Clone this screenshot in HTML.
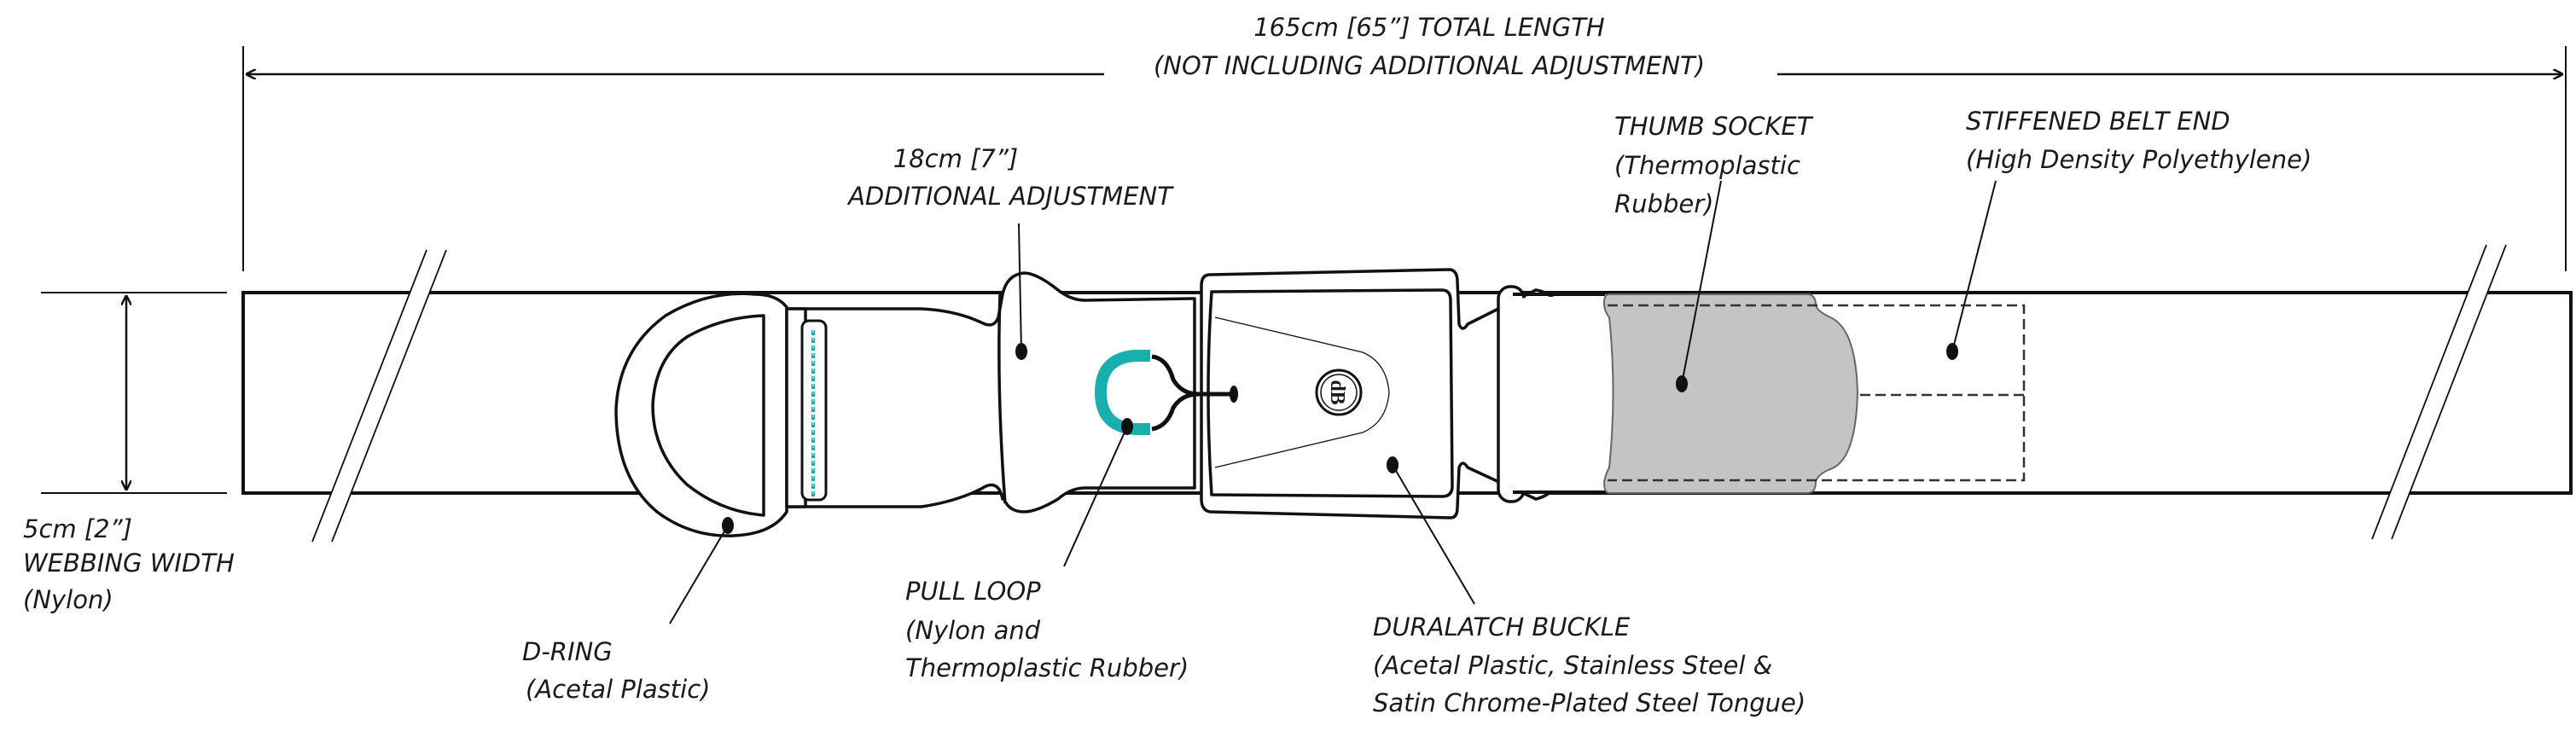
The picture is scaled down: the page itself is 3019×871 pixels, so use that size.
<!DOCTYPE html>
<html><head><meta charset="utf-8"><style>
html,body{margin:0;padding:0;background:#fff;}
svg{display:block;}
text{font-family:"DejaVu Sans","Liberation Sans",sans-serif;font-style:italic;font-size:29px;fill:#1a1a1a;}
</style></head><body>
<svg width="3019" height="871" viewBox="0 0 3019 871" xmlns="http://www.w3.org/2000/svg">
<defs>
<marker id="ar" markerWidth="12" markerHeight="12" refX="11" refY="6" orient="auto" markerUnits="userSpaceOnUse"><path d="M0,0 L12,6 L0,12" fill="none" stroke="#111" stroke-width="2.5"/></marker>
</defs>
<g stroke="#111" fill="none">
<line x1="285" y1="54" x2="285" y2="318" stroke-width="2"/>
<line x1="3007" y1="54" x2="3007" y2="318" stroke-width="2"/>
<line x1="1294" y1="87" x2="289" y2="87" stroke-width="2.5" marker-end="url(#ar)"/>
<line x1="2083" y1="87" x2="3003" y2="87" stroke-width="2.5" marker-end="url(#ar)"/>
<line x1="48" y1="343" x2="266" y2="343" stroke-width="2"/>
<line x1="48" y1="578" x2="266" y2="578" stroke-width="2"/>
<line x1="148" y1="460" x2="148" y2="347" stroke-width="2.5" marker-end="url(#ar)"/>
<line x1="148" y1="460" x2="148" y2="574" stroke-width="2.5" marker-end="url(#ar)"/>
<rect x="285" y="343" width="2728" height="235" stroke-width="4" fill="#fff"/>
</g>
<polygon points="500,293 523,293 389,635 366,635" fill="#fff"/>
<polygon points="2914,287 2937,287 2803,632 2780,632" fill="#fff"/>
<g stroke="#111" stroke-width="1.8">
<line x1="500" y1="293" x2="366" y2="635"/><line x1="523" y1="293" x2="389" y2="635"/>
<line x1="2914" y1="287" x2="2780" y2="632"/><line x1="2937" y1="287" x2="2803" y2="632"/>
</g>
<g stroke="#111" stroke-width="3.5" fill="#fff" stroke-linejoin="round">
<path d="M905,362 L1080,362 Q1120,364 1150,378 Q1165,386 1170,372 L1175,345 Q1180,322 1200,320 Q1215,320 1240,340 Q1255,352 1272,352 L1400,350 L1400,572 L1272,572 Q1255,572 1240,585 Q1215,600 1200,600 Q1180,600 1175,580 L1175,585 Q1170,560 1150,573 Q1120,588 1080,594 L905,594 Z"/>
<path d="M1172,345 Q1168,460 1178,590" fill="none"/>
<path d="M885,345 Q830,340 780,370 Q725,410 722,480 Q722,560 770,600 Q810,630 860,628 Q905,626 922,600 L922,360 Q910,345 885,345 Z"/>
<path d="M895,370 L895,604 Q845,600 805,568 Q765,530 765,475 Q768,420 805,395 Q845,372 895,370 Z"/>
<rect x="922" y="362" width="22" height="232" fill="#fff"/>
<rect x="940" y="376" width="28" height="210" rx="8" stroke-width="3"/>
</g>
<line x1="953" y1="387" x2="953" y2="585" stroke="#1aa9aa" stroke-width="4" stroke-dasharray="6,3"/>
<line x1="953" y1="387" x2="953" y2="585" stroke="#fff" stroke-width="1" stroke-dasharray="3,6"/>
<g stroke="#111" stroke-width="3.5" fill="#fff" stroke-linejoin="round">
<path d="M1418,322 L1700,316 Q1708,318 1708,330 L1710,380 Q1714,390 1720,380 L1800,340 Q1830,345 1832,380 L1832,540 Q1830,578 1800,585 L1720,548 Q1714,538 1710,548 L1708,595 Q1708,607 1700,607 L1418,600 Q1408,598 1408,585 L1408,335 Q1408,322 1418,322 Z"/>
<path d="M1420,342 L1690,340 Q1700,340 1700,352 L1702,570 Q1702,582 1690,582 L1420,580 Q1412,460 1420,342 Z"/>
<rect x="1756" y="336" width="30" height="252" rx="14"/>
<path d="M1773,350 L1860,346 L1860,578 L1773,575 Z" stroke="none"/>
</g>
<line x1="1773" y1="345" x2="1881" y2="345" stroke="#111" stroke-width="4"/>
<line x1="1773" y1="577" x2="1881" y2="577" stroke="#111" stroke-width="4"/>
<path d="M1424,372 L1597,413 Q1625,425 1628,460 Q1625,495 1597,507 L1424,548" fill="none" stroke="#111" stroke-width="1.3"/>
<circle cx="1569" cy="460" r="26" fill="#fff" stroke="#111" stroke-width="3"/>
<circle cx="1569" cy="460" r="21" fill="none" stroke="#111" stroke-width="1.5"/>
<text x="1569" y="469" text-anchor="middle" style="font-style:normal;font-size:24px;font-family:'Liberation Serif',serif;font-weight:bold" transform="rotate(90 1569 460)">dB</text>
<path d="M1348,417 L1330,417 Q1290,420 1290,460 Q1290,500 1330,503 L1348,503" fill="none" stroke="#1aafaf" stroke-width="14"/>
<path d="M1350,418 Q1368,420 1375,445 Q1385,462 1405,462 M1350,503 Q1368,500 1375,478 Q1385,462 1405,462 L1443,462" fill="none" stroke="#111" stroke-width="5"/>
<ellipse cx="1446" cy="462" rx="5" ry="10" fill="#111"/>
<path d="M1886,345 L2118,345 Q2128,345 2128,358 Q2130,365 2145,372 Q2175,385 2177,460 Q2175,540 2145,550 Q2130,556 2128,565 Q2128,578 2118,578 L1886,578 Q1880,578 1880,565 Q1882,555 1886,548 Q1895,460 1886,372 Q1880,365 1880,355 Q1880,345 1886,345 Z" fill="#c6c3c3" stroke="#666" stroke-width="2"/>
<g stroke="#333" stroke-width="2.5" fill="none" stroke-dasharray="12,6">
<path d="M1884,358 L2372,358 L2372,563 L1884,563"/>
<line x1="2180" y1="463" x2="2372" y2="463"/>
</g>
<g fill="#111" stroke="#111" stroke-width="2">
<ellipse cx="853" cy="616" rx="6" ry="9"/><line x1="853" y1="616" x2="785" y2="731"/>
<ellipse cx="1197" cy="412" rx="6" ry="9"/><line x1="1197" y1="412" x2="1194" y2="262"/>
<ellipse cx="1321" cy="500" rx="6" ry="9"/><line x1="1321" y1="500" x2="1247" y2="664"/>
<ellipse cx="1632" cy="545" rx="6" ry="9"/><line x1="1632" y1="545" x2="1728" y2="708"/>
<ellipse cx="1971" cy="450" rx="6" ry="9"/><line x1="1971" y1="450" x2="2017" y2="212"/>
<ellipse cx="2288" cy="412" rx="6" ry="9"/><line x1="2288" y1="412" x2="2339" y2="212"/>
</g>
<text x="1675" y="42" text-anchor="middle">165cm [65”] TOTAL LENGTH</text>
<text x="1675" y="87" text-anchor="middle">(NOT INCLUDING ADDITIONAL ADJUSTMENT)</text>
<text x="1120" y="196" text-anchor="middle">18cm [7”]</text>
<text x="1184" y="240" text-anchor="middle">ADDITIONAL ADJUSTMENT</text>
<text x="1892" y="158">THUMB SOCKET</text>
<text x="1892" y="204">(Thermoplastic</text>
<text x="1892" y="249">Rubber)</text>
<text x="2304" y="152">STIFFENED BELT END</text>
<text x="2304" y="197">(High Density Polyethylene)</text>
<text x="27" y="630">5cm [2”]</text>
<text x="27" y="670">WEBBING WIDTH</text>
<text x="27" y="713">(Nylon)</text>
<text x="612" y="774">D-RING</text>
<text x="616" y="818">(Acetal Plastic)</text>
<text x="1061" y="703">PULL LOOP</text>
<text x="1061" y="749">(Nylon and</text>
<text x="1061" y="793">Thermoplastic Rubber)</text>
<text x="1609" y="745">DURALATCH BUCKLE</text>
<text x="1609" y="790">(Acetal Plastic, Stainless Steel &amp;</text>
<text x="1609" y="834">Satin Chrome-Plated Steel Tongue)</text>
</svg>
</body></html>
